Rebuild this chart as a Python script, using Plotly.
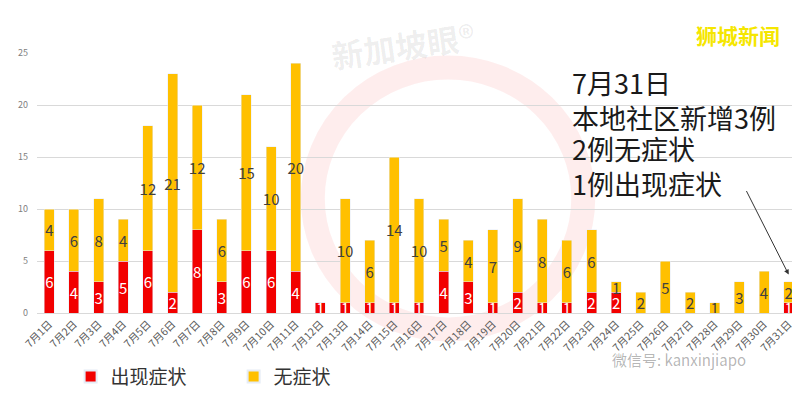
import plotly.graph_objects as go

days = [f"7月{d}日" for d in range(1, 32)]
symptomatic = [6, 4, 3, 5, 6, 2, 8, 3, 6, 6, 4, 1, 1, 1, 1, 1, 4, 3, 1, 2, 1, 1, 2, 2, 0, 0, 0, 0, 0, 0, 1]
asymptomatic = [4, 6, 8, 4, 12, 21, 12, 6, 15, 10, 20, 0, 10, 6, 14, 10, 5, 4, 7, 9, 8, 6, 6, 1, 2, 5, 2, 1, 3, 4, 2]
y_ticks = [0, 5, 10, 15, 20, 25]
note_lines = ["7月31日", "本地社区新增3例", "2例无症状", "1例出现症状"]

FONT = "Noto Sans CJK SC"
RED = "#F20000"
YEL = "#FFC000"

fig = go.Figure()
fig.add_trace(go.Bar(
    x=days, y=symptomatic, name="出现症状", marker_color=RED,
    text=[str(v) if v else "" for v in symptomatic], textposition="inside",
    insidetextanchor="middle", textangle=0,
    textfont=dict(family=FONT, size=15, color="white"),
))
fig.add_trace(go.Bar(
    x=days, y=asymptomatic, name="无症状", marker_color=YEL,
    text=[str(v) if v else "" for v in asymptomatic], textposition="inside",
    insidetextanchor="middle", textangle=0,
    textfont=dict(family=FONT, size=15, color="#404040"),
))

# faint watermark ring
fig.add_shape(type="circle", xref="paper", yref="paper",
              x0=0.361, x1=0.715, y0=-0.063, y1=0.944,
              line=dict(color="rgba(240,0,0,0.07)", width=24), layer="below")

annotations = []
ys = [0.885, 0.753, 0.632, 0.50]
for txt, yy in zip(note_lines, ys):
    annotations.append(dict(text=txt, xref="paper", yref="paper", x=0.697, y=yy,
                            xanchor="left", yanchor="middle", showarrow=False,
                            font=dict(family=FONT, size=27, color="#1a1a1a")))
annotations.append(dict(x=days[-1], y=3.7, xref="x", yref="y", ax=-43, ay=-85,
                        axref="pixel", ayref="pixel", text="", showarrow=True,
                        arrowhead=2, arrowsize=1, arrowwidth=1, arrowcolor="#333333"))
annotations.append(dict(text="<b>狮城新闻</b>", xref="paper", yref="paper", x=0.975, y=1.07,
                        xanchor="right", yanchor="middle", showarrow=False,
                        font=dict(family=FONT, size=21, color="#F5E600")))
annotations.append(dict(text="<b>新加坡眼®</b>", xref="paper", yref="paper", x=0.479, y=1.03,
                        xanchor="center", yanchor="middle", showarrow=False, textangle=-8,
                        font=dict(family=FONT, size=32, color="rgba(0,0,0,0.07)")))
annotations.append(dict(text="微信号: kanxinjiapo", xref="paper", yref="paper", x=0.75, y=-0.18,
                        xanchor="left", yanchor="middle", showarrow=False,
                        font=dict(family=FONT, size=15, color="rgba(0,0,0,0.3)")))

fig.update_layout(
    width=800, height=395,
    margin=dict(l=29, r=7, t=45, b=82),
    barmode="stack", bargap=0.595,
    plot_bgcolor="white", paper_bgcolor="white",
    font=dict(family=FONT),
    uniformtext=dict(minsize=15, mode="show"),
    xaxis=dict(tickangle=-45, tickfont=dict(family=FONT, size=10.5, color="#595959"),
               showgrid=False, showline=True, linecolor="#d9d9d9", ticks=""),
    yaxis=dict(range=[0, 25], tickvals=y_ticks, gridcolor="#d9d9d9", gridwidth=1,
               tickfont=dict(family=FONT, size=9, color="#808080"), zeroline=False,
               ticklabelstandoff=8),
    legend=dict(orientation="h", x=0.044, y=-0.245, xanchor="left", yanchor="middle",
                font=dict(family=FONT, size=19, color="#333333"), entrywidth=118,
                itemsizing="constant", traceorder="normal"),
    annotations=annotations,
    showlegend=True,
)

fig.write_html("out.html")
